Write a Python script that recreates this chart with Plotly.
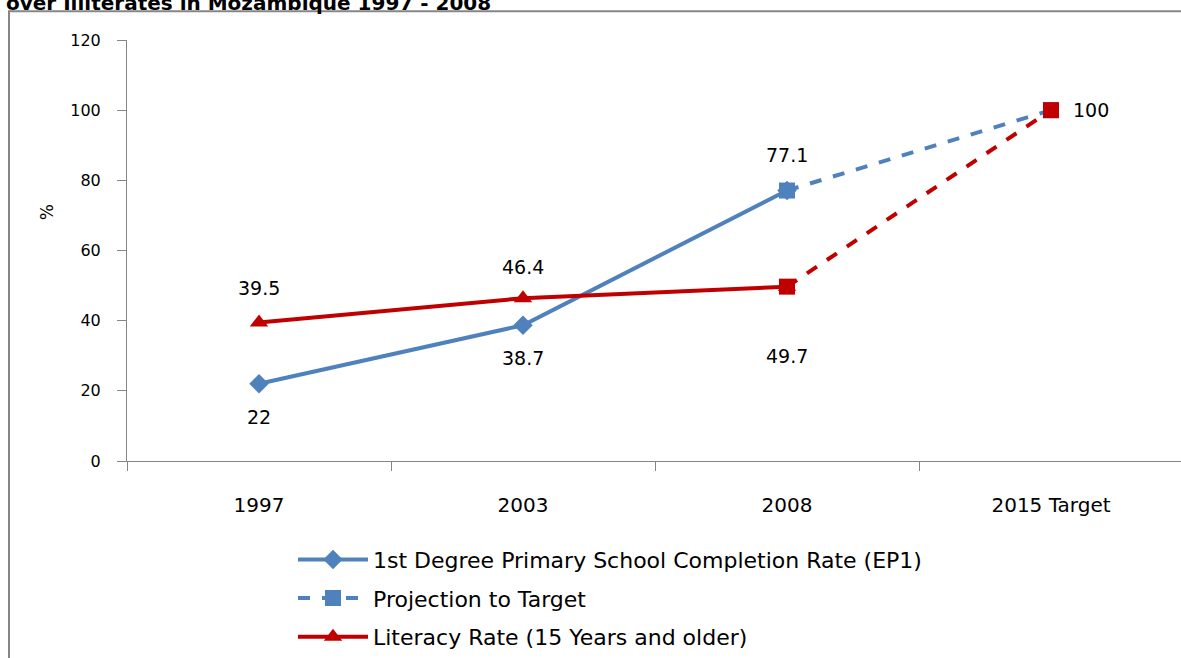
import plotly.graph_objects as go

categories = ["1997", "2003", "2008", "2015 Target"]
ep1_values = [22, 38.7, 77.1, None]
ep1_projection = [None, None, 77.1, 100]
literacy_values = [39.5, 46.4, 49.7, None]
literacy_projection = [None, None, 49.7, 100]
y_ticks = [0, 20, 40, 60, 80, 100, 120]

BLUE = "#4F81BD"
RED = "#C00000"
W, H = 1181, 658
L, T, B = 127, 40, 195
pw, ph = W - L, H - T - B

def px_x(p):
    return (p - L) / pw

def px_y(p):
    return (H - B - p) / ph

fig = go.Figure()
fig.add_trace(go.Scatter(x=categories, y=ep1_values, mode="lines+markers",
                         name="1st Degree Primary School Completion Rate (EP1)",
                         legendgroup="a",
                         line=dict(color=BLUE, width=4),
                         marker=dict(symbol="diamond", size=15, color=BLUE)))
fig.add_trace(go.Scatter(x=categories, y=ep1_projection, mode="lines+markers",
                         name="Projection to Target", legendgroup="b",
                         line=dict(color=BLUE, width=4, dash="dash"),
                         marker=dict(symbol="square", size=16, color=BLUE)))
fig.add_trace(go.Scatter(x=categories, y=literacy_values, mode="lines+markers",
                         name="Literacy Rate (15 Years and older)", legendgroup="c",
                         line=dict(color=RED, width=4),
                         marker=dict(symbol="triangle-up", size=16, color=RED)))
fig.add_trace(go.Scatter(x=categories, y=literacy_projection, mode="lines+markers",
                         name="Literacy projection", showlegend=False, legendgroup="d",
                         line=dict(color=RED, width=4, dash="dash"),
                         marker=dict(symbol="square", size=16, color=RED)))

# data labels (x as category index)
label_points = [
    (0, ep1_values[0], -33),
    (1, ep1_values[1], -33),
    (2, ep1_values[2], 36),
    (0, literacy_values[0], 34),
    (1, literacy_values[1], 31),
    (2, literacy_values[2], -69),
]
for xi, yv, ys in label_points:
    fig.add_annotation(x=xi, y=yv, text=f"{yv:g}", showarrow=False,
                       yshift=ys,
                       font=dict(family="DejaVu Sans", size=19, color="#000"))
fig.add_annotation(x=3, y=ep1_projection[3], text=f"{ep1_projection[3]:g}",
                   showarrow=False, xanchor="left", xshift=20,
                   font=dict(family="DejaVu Sans", size=19, color="#000"))

# y-axis title
fig.add_annotation(x=px_x(35), y=px_y(213), xref="paper", yref="paper",
                   text="%", textangle=-90, showarrow=False,
                   font=dict(family="DejaVu Sans", size=17, color="#000"))

# cut-off title at top
fig.add_annotation(x=px_x(4), y=px_y(17), xref="paper", yref="paper",
                   xanchor="left", yanchor="bottom",
                   text="<b>over Illiterates in Mozambique 1997 - 2008</b>",
                   showarrow=False,
                   font=dict(family="DejaVu Sans", size=20, color="#000"))

# outer border
fig.add_shape(type="rect", xref="paper", yref="paper",
              x0=px_x(9), x1=px_x(1200), y0=px_y(11), y1=px_y(700),
              line=dict(color="#868686", width=2), layer="below")

fig.update_layout(
    width=W, height=H,
    margin=dict(l=L, r=0, t=T, b=B, pad=0),
    paper_bgcolor="white", plot_bgcolor="white",
    showlegend=True,
    legend=dict(x=px_x(293), y=px_y(541), xanchor="left", yanchor="top",
                font=dict(family="DejaVu Sans", size=22, color="#000"),
                itemwidth=70, tracegroupgap=7, traceorder="grouped",
                bgcolor="rgba(0,0,0,0)"),
    xaxis=dict(type="category", categoryorder="array", categoryarray=categories,
               range=[-0.5, 3.5 - 2 / 264], tickson="boundaries",
               ticks="outside", ticklen=9, tickcolor="#868686", tickwidth=1,
               showline=True, linecolor="#868686", linewidth=1,
               showgrid=False, zeroline=False, ticklabelstandoff=26,
               tickfont=dict(family="DejaVu Sans", size=20, color="#000")),
    yaxis=dict(range=[0, 120], tickvals=y_ticks, ticks="outside", ticklen=9,
               tickcolor="#868686", showline=True, linecolor="#868686", linewidth=1,
               showgrid=False, zeroline=False, ticklabelstandoff=13,
               tickfont=dict(family="DejaVu Sans", size=16, color="#000")),
)

fig.write_html("out.html", config={"displayModeBar": False},
               post_script="document.body.style.margin='0';document.body.style.overflow='hidden';")
